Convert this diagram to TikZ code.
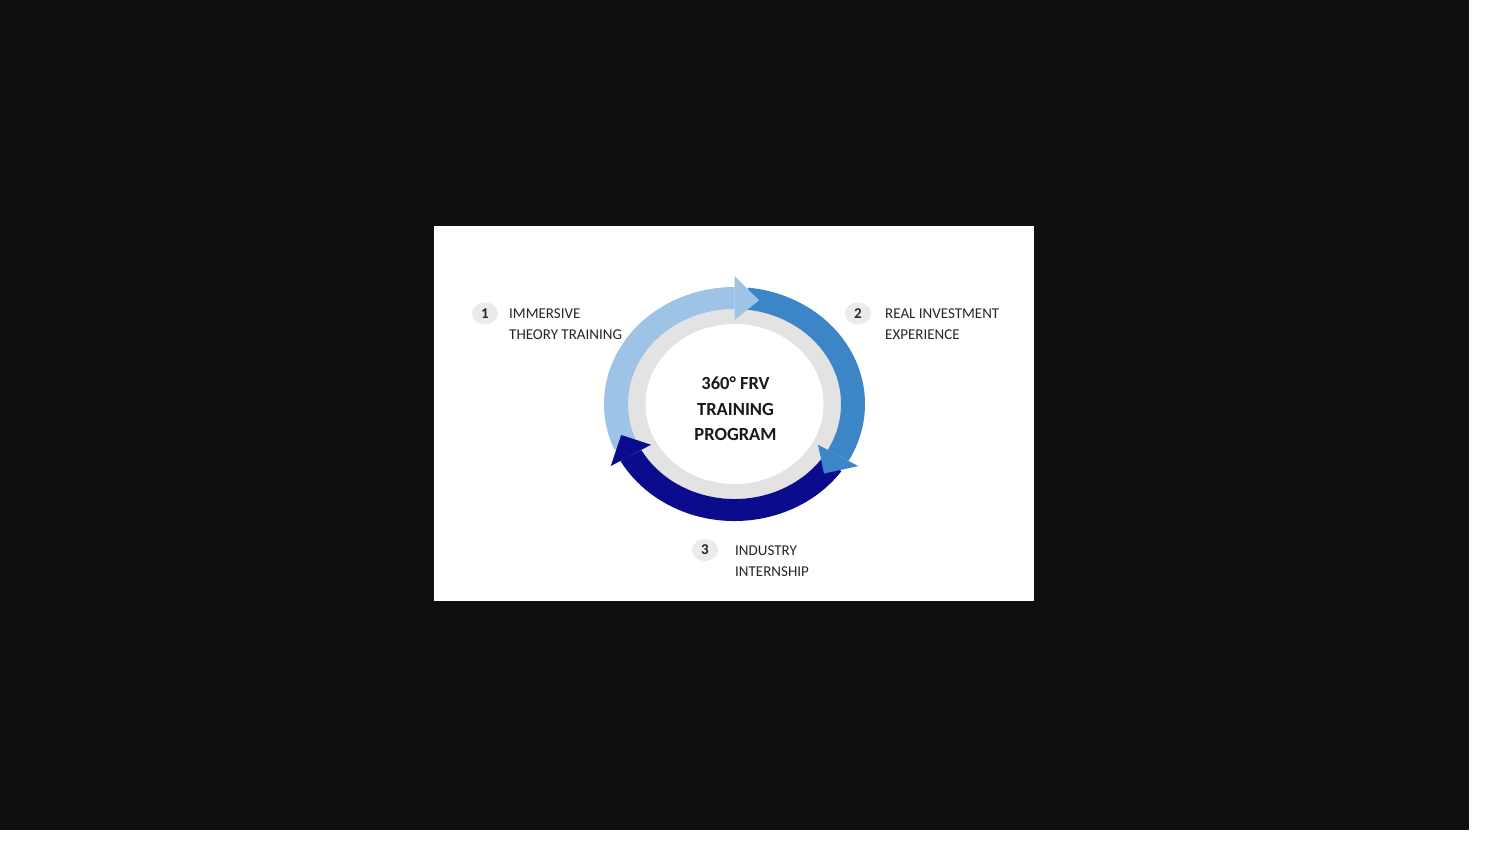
\documentclass[tikz,border=0pt]{standalone}
\usepackage{fontspec}
\setmainfont{Carlito}
\usetikzlibrary{shapes.geometric}
\definecolor{bgdark}{HTML}{0F0F0F}
\definecolor{lblue}{HTML}{9DC3E6}
\definecolor{mblue}{HTML}{3C85C6}
\definecolor{navyc}{HTML}{0B0B8E}
\definecolor{ringgray}{HTML}{E3E3E3}
\definecolor{badgegray}{HTML}{EBEBEB}
\definecolor{txt}{HTML}{262626}
\newcommand\ringband[3]{%
  \fill[#1] (#2:130.5 and 117) arc[start angle=#2, end angle=#3, x radius=130.5, y radius=117]
    -- (#3:106.5 and 95) arc[start angle=#3, end angle=#2, x radius=106.5, y radius=95] -- cycle;}
\newcommand\ringhead[2]{%
  \fill[#1] (#2:95.5 and 84) -- (#2:141.5 and 128) -- ({#2-12}:118.5 and 106) -- cycle;}
\begin{document}
\begin{tikzpicture}[x=1pt,y=1pt,
  labeltext/.style={anchor=base west, text=txt, inner sep=0pt, font=\fontsize{15}{18}\selectfont},
  badge/.style={shape=ellipse, fill=badgegray, minimum width=26pt, minimum height=22pt, inner sep=0pt,
    text=txt, font=\bfseries\fontsize{15}{18}\selectfont},
  titletext/.style={anchor=base, text=black!90, inner sep=0pt, font=\bfseries\fontsize{18.5}{22}\selectfont}]
\useasboundingbox (0,0) rectangle (1501,-855);
\fill[white] (0,0) rectangle (1501,-855);
\fill[bgdark] (0,0) rectangle (1469,-830);
\fill[white] (434,-226) rectangle (1034,-601);
\begin{scope}[shift={(734.5,-404)}]
  \fill[ringgray] (0,0) ellipse [x radius=106.5, y radius=95];
  \fill[white] (0,0) ellipse [x radius=89, y radius=80];
  \ringband{lblue}{203}{90}
  \ringband{mblue}{84}{-29}
  \ringband{navyc}{-35}{-151}
  \ringhead{lblue}{90}
  \ringhead{mblue}{-29}
  \ringhead{navyc}{209}
\end{scope}
\node[titletext] (t1) at (735.5,-389.5) {360° FRV};
\node[titletext] (t2) at (735.5,-415) {TRAINING};
\node[titletext] (t3) at (735.5,-440.5) {PROGRAM};
\node[badge] (b1) at (485,-313.5) {1};
\node[labeltext] (l1a) at (509,-318.5) {IMMERSIVE};
\node[labeltext] (l1b) at (509,-339) {THEORY TRAINING};
\node[badge] (b2) at (858,-313.5) {2};
\node[labeltext] (l2a) at (885,-318.5) {REAL INVESTMENT};
\node[labeltext] (l2b) at (885,-339) {EXPERIENCE};
\node[badge] (b3) at (705,-550) {3};
\node[labeltext] (l3a) at (735,-555.5) {INDUSTRY};
\node[labeltext] (l3b) at (735,-576) {INTERNSHIP};
\end{tikzpicture}
\end{document}
